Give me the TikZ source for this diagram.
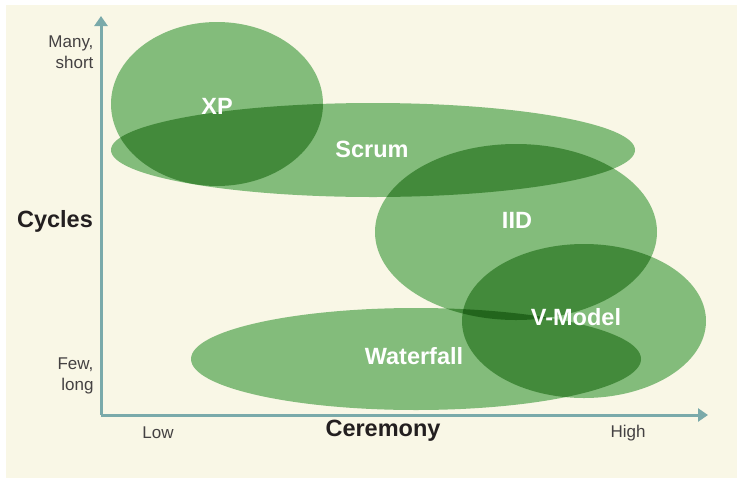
\documentclass[tikz,border=0pt]{standalone}
\usepackage{fontspec}
\setmainfont{Liberation Sans}
\usetikzlibrary{arrows.meta}

\definecolor{paper}{RGB}{249,247,230}
\definecolor{blobgreen}{RGB}{131,188,123}
\definecolor{axisteal}{RGB}{122,170,170}
\definecolor{ink}{RGB}{35,31,32}

\tikzset{
  axisline/.style={draw=axisteal, line width=3pt, -{Triangle[length=10pt,width=13pt]}},
  blob/.style={fill=blobgreen},
  method/.style={text=white, font=\bfseries\fontsize{23.5}{25}\selectfont},
  axistitle/.style={text=ink, font=\bfseries\fontsize{23.5}{25}\selectfont},
  scalelabel/.style={text=ink!85, font=\fontsize{17}{21}\selectfont, align=right}
}

\begin{document}
\begin{tikzpicture}[x=1pt, y=-1pt]
    % Page and panel
    \useasboundingbox (0,0) rectangle (737,483);
    \fill[white] (0,0) rectangle (737,483);
    \fill[paper] (6,5) rectangle (737,478);

    % Method regions (overlaps darken)
    \begin{scope}[blend group=multiply]
        \fill[blob] (217,104) ellipse (106 and 82);
        \fill[blob] (373,150) ellipse (262 and 47);
        \fill[blob] (516,232) ellipse (141 and 88);
        \fill[blob] (584,321) ellipse (122 and 77);
        \fill[blob] (416,359) ellipse (225 and 51);
    \end{scope}

    % Axes
    \coordinate (origin) at (101,415);
    \coordinate (ytop) at (101,16);
    \coordinate (xend) at (708,415);
    \draw[axisline] (origin) -- (ytop);
    \draw[axisline] (origin) -- (xend);

    % Method names
    \node[method] (xp) at (217,106) {XP};
    \node[method] (scrum) at (372,149) {Scrum};
    \node[method] (iid) at (517,220) {IID};
    \node[method] (vmodel) at (576,317) {V-Model};
    \node[method] (waterfall) at (414,356) {Waterfall};

    % Axis labels
    \node[axistitle] (cycles) at (55,221) {Cycles};
    \node[axistitle] (ceremony) at (383,431) {Ceremony};
    \node[scalelabel, anchor=east] (many) at (97,52) {Many,\\short};
    \node[scalelabel, anchor=east] (few) at (97,376) {Few,\\long};
    \node[scalelabel] (low) at (158,433) {Low};
    \node[scalelabel] (high) at (628,433) {High};
\end{tikzpicture}
\end{document}
